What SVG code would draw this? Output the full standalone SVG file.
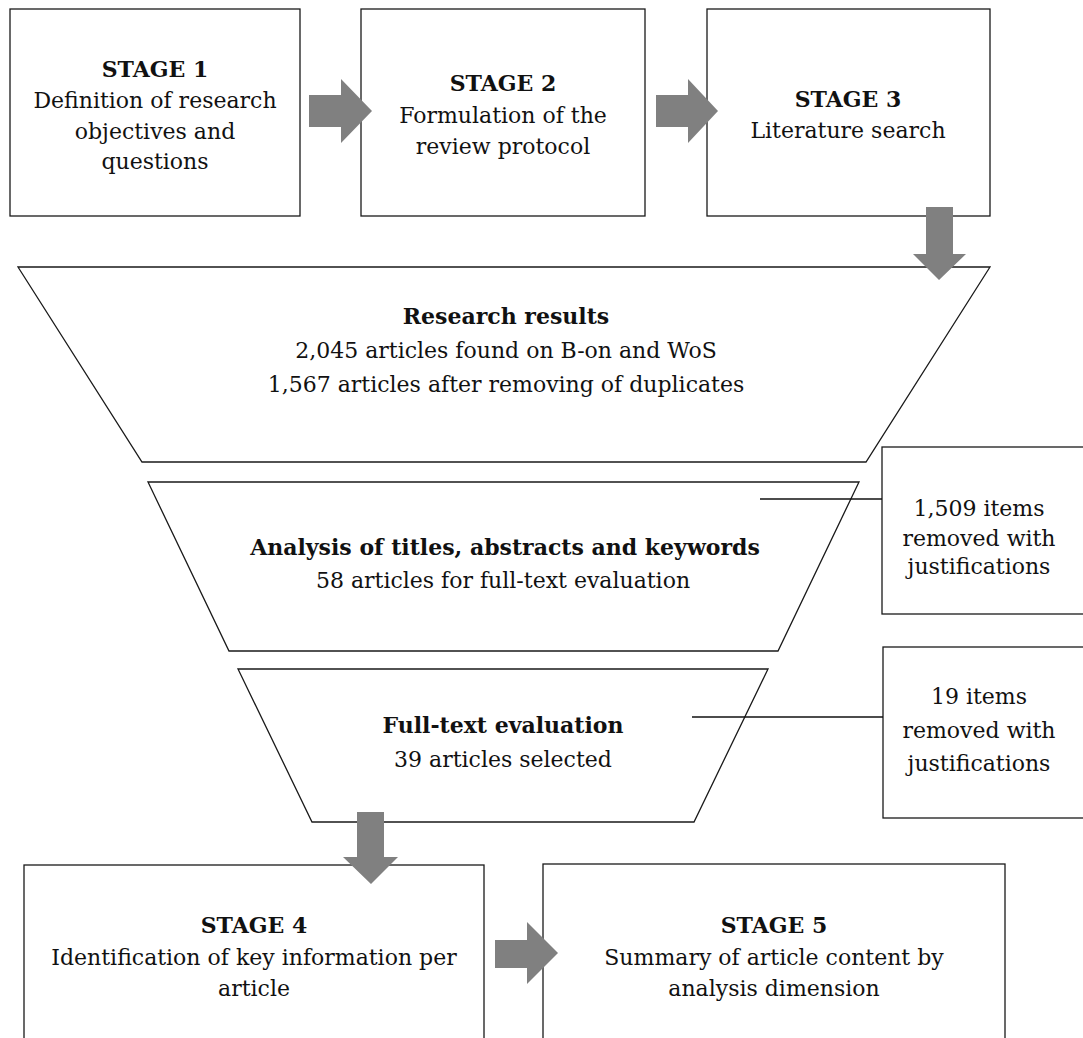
<svg xmlns="http://www.w3.org/2000/svg" width="1083" height="1038" viewBox="0 0 1083 1038">
<style>
.box{fill:#fff;stroke:#1a1a1a;stroke-width:1.3}
.t{font-family:"DejaVu Serif","Liberation Serif",serif;font-size:22px;fill:#111;text-anchor:middle}
.b{font-weight:bold}
.arr{fill:#808080;stroke:none}
.link{stroke:#111;stroke-width:1.5;fill:none}
</style>
<rect width="1083" height="1038" fill="#fff"/>
<g id="stage1">
<rect class="box" x="10" y="9" width="290" height="207"/>
<text class="t b" x="155" y="77">STAGE 1</text>
<text class="t" x="155" y="108">Definition of research</text>
<text class="t" x="155" y="139">objectives and</text>
<text class="t" x="155" y="169">questions</text>
</g>
<g id="stage2">
<rect class="box" x="361" y="9" width="284" height="207"/>
<text class="t b" x="503" y="91">STAGE 2</text>
<text class="t" x="503" y="123">Formulation of the</text>
<text class="t" x="503" y="154">review protocol</text>
</g>
<g id="stage3">
<rect class="box" x="707" y="9" width="283" height="207"/>
<text class="t b" x="848" y="107">STAGE 3</text>
<text class="t" x="848" y="138">Literature search</text>
</g>
<g id="research-results">
<polygon class="box" points="18,267 990,267 866,462 142,462"/>
<text class="t b" x="506" y="324">Research results</text>
<text class="t" x="506" y="358">2,045 articles found on B-on and WoS</text>
<text class="t" x="506" y="392">1,567 articles after removing of duplicates</text>
</g>
<g id="screening">
<polygon class="box" points="148,482 859,482 778,651 229,651"/>
<text class="t b" x="505" y="555">Analysis of titles, abstracts and keywords</text>
<text class="t" x="503" y="588">58 articles for full-text evaluation</text>
</g>
<g id="fulltext">
<polygon class="box" points="238,669 768,669 694,822 312,822"/>
<text class="t b" x="503" y="733">Full-text evaluation</text>
<text class="t" x="503" y="767">39 articles selected</text>
</g>
<g id="removed1">
<rect class="box" x="882" y="447" width="210" height="167"/>
<text class="t" x="979" y="516">1,509 items</text>
<text class="t" x="979" y="546">removed with</text>
<text class="t" x="979" y="574">justifications</text>
</g>
<g id="removed2">
<rect class="box" x="883" y="647" width="210" height="171"/>
<text class="t" x="979" y="704">19 items</text>
<text class="t" x="979" y="738">removed with</text>
<text class="t" x="979" y="771">justifications</text>
</g>
<g id="stage4">
<rect class="box" x="24" y="865" width="460" height="190"/>
<text class="t b" x="254" y="933">STAGE 4</text>
<text class="t" x="254" y="965">Identification of key information per</text>
<text class="t" x="254" y="996">article</text>
</g>
<g id="stage5">
<rect class="box" x="543" y="864" width="462" height="190"/>
<text class="t b" x="774" y="933">STAGE 5</text>
<text class="t" x="774" y="965">Summary of article content by</text>
<text class="t" x="774" y="996">analysis dimension</text>
</g>
<g id="connectors">
<polygon class="arr" points="309,95 341,95 341,79 372,111 341,143 341,127 309,127"/>
<polygon class="arr" points="656,95 688,95 688,79 718,111 688,143 688,127 656,127"/>
<polygon class="arr" points="926,207 953,207 953,254 966,254 939,280 913,254 926,254"/>
<polygon class="arr" points="357,812 384,812 384,857 398,857 371,884 343,857 357,857"/>
<polygon class="arr" points="495,940 527,940 527,922 558,953 527,984 527,968 495,968"/>
<line class="link" x1="760" y1="499" x2="882" y2="499"/>
<line class="link" x1="692" y1="717" x2="883" y2="717"/>
</g>
</svg>
